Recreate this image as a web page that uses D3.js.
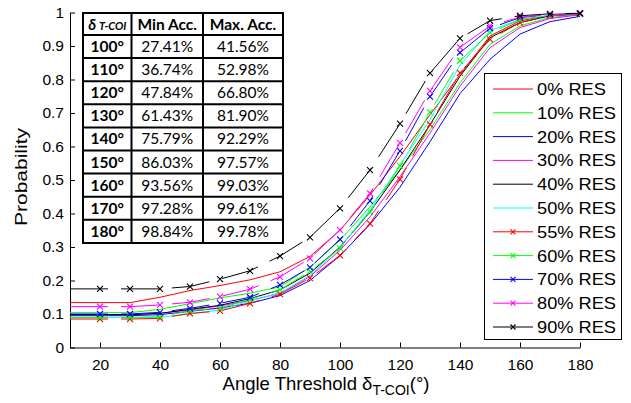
<!DOCTYPE html>
<html><head><meta charset="utf-8">
<script src="https://cdn.jsdelivr.net/npm/d3@7"></script>
<style>body{margin:0;background:#fff}svg{display:block}</style>
</head><body>
<svg id="c" width="631" height="403"></svg>
<script>
const xVals = [10,20,30,40,50,60,70,80,90,100,110,120,130,140,150,160,170,180];
const res0  = [0.134,0.134,0.134,0.150,0.170,0.185,0.202,0.226,0.272,0.350,0.455,0.570,0.695,0.815,0.930,0.975,0.992,0.997];
const res10 = [0.104,0.104,0.104,0.114,0.131,0.148,0.162,0.181,0.240,0.320,0.420,0.530,0.650,0.790,0.905,0.960,0.985,0.994];
const res20 = [0.095,0.095,0.095,0.098,0.108,0.118,0.132,0.155,0.200,0.2741,0.3674,0.4784,0.6143,0.7579,0.8603,0.9356,0.9728,0.9884];
const res30 = [0.098,0.098,0.098,0.102,0.112,0.124,0.140,0.162,0.212,0.290,0.390,0.510,0.640,0.780,0.895,0.955,0.982,0.993];
const res40 = [0.098,0.098,0.098,0.102,0.114,0.126,0.146,0.172,0.222,0.300,0.405,0.530,0.665,0.810,0.925,0.970,0.990,0.996];
const res50 = [0.089,0.089,0.089,0.090,0.100,0.112,0.139,0.163,0.215,0.298,0.410,0.545,0.680,0.843,0.945,0.980,0.992,0.997];
const res55 = [0.085,0.085,0.085,0.087,0.102,0.109,0.132,0.159,0.207,0.275,0.370,0.502,0.666,0.820,0.920,0.970,0.990,0.996];
const res60 = [0.090,0.090,0.090,0.092,0.110,0.117,0.144,0.172,0.228,0.296,0.404,0.542,0.702,0.856,0.940,0.978,0.992,0.996];
const res70 = [0.100,0.100,0.100,0.105,0.117,0.132,0.150,0.187,0.239,0.323,0.438,0.587,0.749,0.880,0.953,0.985,0.994,0.997];
const res80 = [0.122,0.122,0.122,0.127,0.135,0.152,0.174,0.211,0.266,0.351,0.460,0.611,0.766,0.896,0.960,0.986,0.994,0.997];
const res90 = [0.175,0.175,0.175,0.175,0.182,0.204,0.229,0.273,0.329,0.4156,0.5298,0.668,0.819,0.9229,0.9757,0.9903,0.9961,0.9978];

const seriesNames = ["0% RES","10% RES","20% RES","30% RES","40% RES","50% RES","55% RES","60% RES","70% RES","80% RES","90% RES"];
const seriesValues = [res0,res10,res20,res30,res40,res50,res55,res60,res70,res80,res90];
const seriesColors = ["#ff0000","#00ff00","#0000ff","#ff00ff","#000000","#00ffff","#ff0000","#00ff00","#0000ff","#ff00ff","#000000"];
const seriesMarked = [false,false,false,false,false,false,true,true,true,true,true];

const xTicks = [20,40,60,80,100,120,140,160,180];
const yTicks = [0,0.1,0.2,0.3,0.4,0.5,0.6,0.7,0.8,0.9,1];

const tableAngles = ["100°","110°","120°","130°","140°","150°","160°","170°","180°"];
const tableMin = ["27.41%","36.74%","47.84%","61.43%","75.79%","86.03%","93.56%","97.28%","98.84%"];
const tableMax = ["41.56%","52.98%","66.80%","81.90%","92.29%","97.57%","99.03%","99.61%","99.78%"];

const svg = d3.select("#c");
const x = d3.scaleLinear().domain([10,180]).range([70,580]);
const y = d3.scaleLinear().domain([0,1]).range([347.5,12.5]);
const font = "'Liberation Sans', Arial, Helvetica, sans-serif";

// axes
const xa = svg.append("g").attr("transform","translate(0,347.5)")
  .call(d3.axisBottom(x).tickValues(xTicks).tickSizeInner(-5).tickSizeOuter(0).tickPadding(11).tickFormat(d3.format("d")));
const ya = svg.append("g").attr("transform","translate(70,0)")
  .call(d3.axisLeft(y).tickValues(yTicks).tickSizeInner(-5).tickSizeOuter(0).tickPadding(6).tickFormat(d=>d===0||d===1?String(d):d3.format(".1f")(d)));
[xa,ya].forEach(a=>{
  a.selectAll("text").attr("font-family",font).attr("font-size","15.5px").attr("fill","#000");
  a.selectAll("line,path").attr("stroke","#000");
});

// lines
const line = d3.line().x((d,i)=>x(xVals[i])).y(d=>y(d));
const gl = svg.append("g");
seriesValues.forEach((vals,k)=>{
  gl.append("path").attr("d",line(vals)).attr("fill","none")
    .attr("stroke",seriesColors[k]).attr("stroke-width",1)
    .attr("stroke-dasharray",seriesMarked[k]?"38,13":null);
  if(seriesMarked[k]){
    vals.forEach((v,i)=>{
      if(xVals[i]<=10) return;
      const cx=x(xVals[i]), cy=y(v), s=3;
      gl.append("path").attr("d",`M${cx-s},${cy-s}L${cx+s},${cy+s}M${cx-s},${cy+s}L${cx+s},${cy-s}`)
        .attr("stroke",seriesColors[k]).attr("stroke-width",1.1).attr("fill","none");
    });
  }
});

// table
const tb = svg.append("g");
const tX = [83,131.5,203,283];
const tY = [13,35];
for(let i=1;i<=9;i++) tY.push(35+i*23.1);
tb.append("rect").attr("x",tX[0]).attr("y",tY[0]).attr("width",tX[3]-tX[0]).attr("height",tY[10]-tY[0]).attr("fill","#fff");
const tf = "Lato, 'Open Sans', sans-serif";
const hdr = tb.append("text").attr("x",(tX[0]+tX[1])/2).attr("y",tY[0]+16.5).attr("text-anchor","middle")
  .attr("font-family",tf).attr("font-weight","bold").attr("font-style","italic").attr("font-size","15px");
hdr.append("tspan").text("δ");
hdr.append("tspan").attr("font-size","11px").attr("dx","3").text("T-COI");
tb.append("text").attr("x",(tX[1]+tX[2])/2).attr("y",tY[0]+16.5).attr("text-anchor","middle")
  .attr("font-family",tf).attr("font-weight","bold").attr("font-size","15.5px").text("Min Acc.");
tb.append("text").attr("x",(tX[2]+tX[3])/2).attr("y",tY[0]+16.5).attr("text-anchor","middle")
  .attr("font-family",tf).attr("font-weight","bold").attr("font-size","15.5px").text("Max. Acc.");
tableAngles.forEach((a,i)=>{
  const by = tY[i+1]+17;
  tb.append("text").attr("x",(tX[0]+tX[1])/2).attr("y",by).attr("text-anchor","middle")
    .attr("font-family",tf).attr("font-weight","bold").attr("font-size","15.5px").text(a);
  tb.append("text").attr("x",(tX[1]+tX[2])/2).attr("y",by).attr("text-anchor","middle")
    .attr("font-family",tf).attr("font-size","15.5px").text(tableMin[i]);
  tb.append("text").attr("x",(tX[2]+tX[3])/2).attr("y",by).attr("text-anchor","middle")
    .attr("font-family",tf).attr("font-size","15.5px").text(tableMax[i]);
});
tY.forEach(yy=>tb.append("line").attr("x1",tX[0]-1).attr("x2",tX[3]+1).attr("y1",yy).attr("y2",yy).attr("stroke","#000").attr("stroke-width",2));
tX.forEach(xx=>tb.append("line").attr("x1",xx).attr("x2",xx).attr("y1",tY[0]).attr("y2",tY[10]).attr("stroke","#000").attr("stroke-width",2));

// legend
const lg = svg.append("g");
lg.append("rect").attr("x",484.5).attr("y",73.5).attr("width",137).attr("height",266).attr("fill","#fff").attr("stroke","#000").attr("stroke-width",1);
seriesNames.forEach((n,k)=>{
  const ly = 89 + k*23.8;
  lg.append("line").attr("x1",493).attr("x2",533).attr("y1",ly).attr("y2",ly).attr("stroke",seriesColors[k]).attr("stroke-width",1);
  if(seriesMarked[k]){
    const s=2.5;
    lg.append("path").attr("d",`M${513-s},${ly-s}L${513+s},${ly+s}M${513-s},${ly+s}L${513+s},${ly-s}`).attr("stroke",seriesColors[k]).attr("stroke-width",1.1);
  }
  lg.append("text").attr("transform",`translate(537,${ly+6}) scale(1.14,1)`)
    .attr("font-family",font).attr("font-size","16px").text(n);
});

// axis labels
svg.append("text").attr("transform","translate(27,177) rotate(-90)").attr("text-anchor","middle")
  .attr("font-family",font).attr("font-size","17px").attr("textLength",98).attr("lengthAdjust","spacingAndGlyphs").text("Probability");
const xl = svg.append("text").attr("x",326).attr("y",390).attr("text-anchor","middle")
  .attr("font-family",font).attr("font-size","18.5px");
xl.append("tspan").text("Angle Threshold δ");
xl.append("tspan").attr("font-size","14px").attr("dy","5").text("T-COI");
xl.append("tspan").attr("dy","-5").text("(°)");
</script>
</body></html>
